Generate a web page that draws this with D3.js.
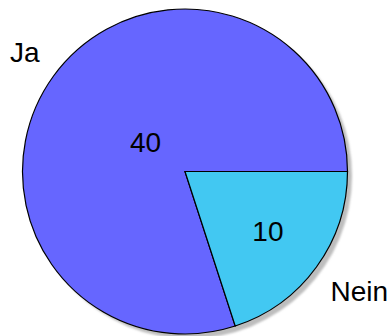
<!DOCTYPE html>
<html>
<head>
<meta charset="utf-8">
<script src="https://cdn.jsdelivr.net/npm/d3@7"></script>
<style>
  html, body { margin: 0; padding: 0; background: #fff; }
  svg { display: block; }
  text { font-family: "Liberation Sans", Arial, sans-serif; fill: #000; }
</style>
</head>
<body>
<svg id="chart" width="392" height="336"></svg>
<script>
// Poll results
const categories = ["Ja", "Nein"];
const values = [40, 10];
const colors = ["#6666ff", "#42c8f2"];

const width = 392, height = 336;
const cx = 185, cy = 171.5, radius = 162.5;
const fontSize = 28;

const svg = d3.select("#chart");

const data = categories.map((c, i) => ({ name: c, value: values[i], color: colors[i] }));

// Slices: "Nein" starts at 3 o'clock and runs clockwise; "Ja" fills the rest.
const total = d3.sum(values);
const pie = d3.pie()
  .value(d => d.value)
  .sort(null)
  .startAngle(Math.PI / 2 - 2 * Math.PI * values[0] / total)
  .endAngle(Math.PI / 2 - 2 * Math.PI * values[0] / total + 2 * Math.PI);

const arcs = pie(data);
const arc = d3.arc().innerRadius(0).outerRadius(radius);

const g = svg.append("g").attr("transform", `translate(${cx},${cy})`);

// Soft drop shadow behind the disc
const defs = svg.append("defs");
defs.append("filter").attr("id", "soft")
  .attr("x", "-10%").attr("y", "-10%").attr("width", "120%").attr("height", "120%")
  .append("feGaussianBlur").attr("stdDeviation", 0.8);

g.append("circle")
  .attr("cx", 4.5).attr("cy", 4.5).attr("r", radius)
  .attr("fill", "#bdbdbd")
  .attr("filter", "url(#soft)");

g.selectAll("path.slice")
  .data(arcs)
  .join("path")
  .attr("class", "slice")
  .attr("d", arc)
  .attr("fill", d => d.data.color)
  .attr("stroke", "#000")
  .attr("stroke-width", 1.2)
  .attr("stroke-linejoin", "miter");

// Value labels: distance from centre shrinks as the slice gets wider
function labelRadius(d) {
  const deg = (d.endAngle - d.startAngle) * 180 / Math.PI;
  const t = Math.max(Math.min((deg - 10) / 110 * -0.3, 0), -0.5);
  return (t + 0.8) * radius;
}

g.selectAll("text.value")
  .data(arcs)
  .join("text")
  .attr("class", "value")
  .attr("x", d => Math.sin((d.startAngle + d.endAngle) / 2) * labelRadius(d))
  .attr("y", d => -Math.cos((d.startAngle + d.endAngle) / 2) * labelRadius(d))
  .attr("text-anchor", "middle")
  .attr("dominant-baseline", "central")
  .attr("font-size", fontSize)
  .text(d => d.data.value);

// Category labels placed just outside the rim, away from the disc
g.selectAll("text.name")
  .data(arcs)
  .join("text")
  .attr("class", "name")
  .each(function (d) {
    const mid = (d.startAngle + d.endAngle) / 2;
    const px = Math.sin(mid) * radius;
    const py = -Math.cos(mid) * radius;
    const sx = Math.sign(px), sy = Math.sign(py);
    d3.select(this)
      .attr("x", px + sx * 14)
      .attr("y", sy < 0 ? py - 14 : py + 14 + fontSize * 0.72)
      .attr("text-anchor", sx < 0 ? "end" : "start")
      .attr("font-size", fontSize)
      .text(d.data.name);
  });
</script>
</body>
</html>
